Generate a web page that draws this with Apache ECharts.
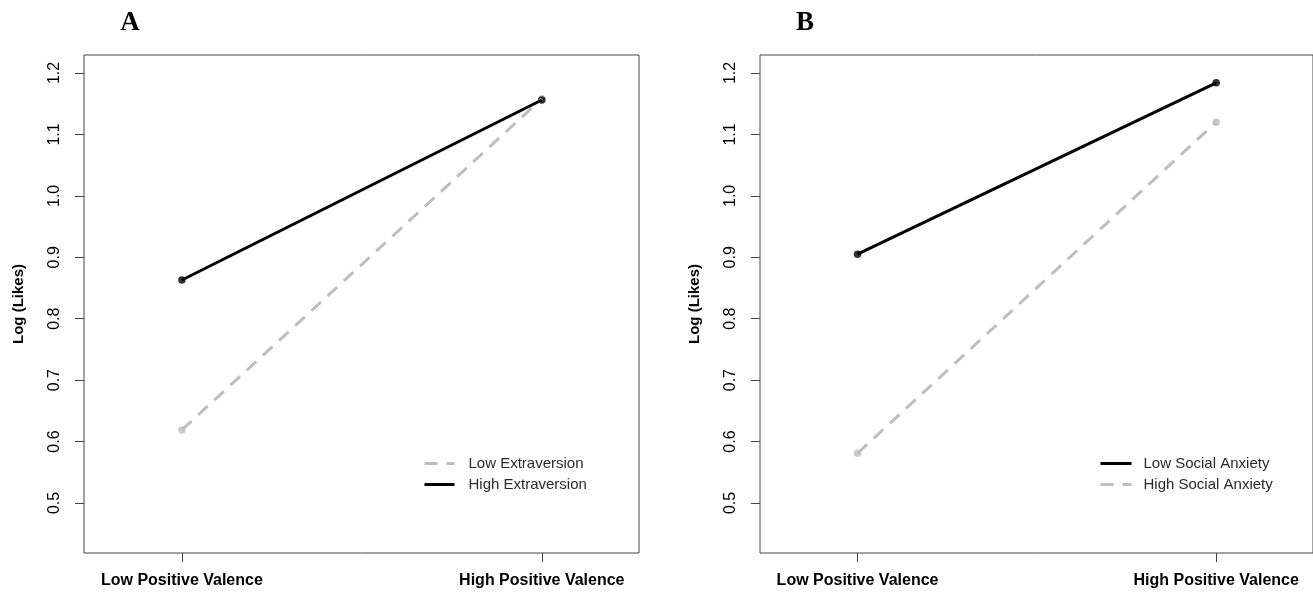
<!DOCTYPE html>
<html>
<head>
<meta charset="utf-8">
<script src="https://cdn.jsdelivr.net/npm/echarts@6/dist/echarts.min.js"></script>
<style>
html,body{margin:0;padding:0;background:#fff;}
#chart{width:1313px;height:592px;}
</style>
</head>
<body>
<div id="chart"></div>
<script>
// ---- data ----
var categories = ['Low Positive Valence', 'High Positive Valence'];
var xPositions = [1, 2];
var yTicks = [0.5, 0.6, 0.7, 0.8, 0.9, 1.0, 1.1, 1.2];
// Panel A
var lowExtraversion = [0.619, 1.158];
var highExtraversion = [0.863, 1.156];
// Panel B
var lowSocialAnxiety = [0.905, 1.184];
var highSocialAnxiety = [0.581, 1.120];

function pts(vals) { return vals.map(function (v, i) { return [xPositions[i], v]; }); }

var FONT = 'Liberation Sans';
var GRAY = '#bebebe';
var BLACK = '#000000';
var DASH = [13, 9];

function xAxisCfg(idx) {
  return {
    type: 'value', gridIndex: idx, min: 0.728, max: 2.27,
    axisLine: { show: false }, splitLine: { show: false },
    axisTick: { show: true, customValues: xPositions, length: 9, inside: false, lineStyle: { color: '#444', width: 1 } },
    axisLabel: {
      customValues: xPositions, margin: 20,
      formatter: function (v) { var i = xPositions.indexOf(Math.round(v)); return i >= 0 ? categories[i] : ''; },
      fontFamily: FONT, fontSize: 16, fontWeight: 'bold', color: '#000'
    }
  };
}
function yAxisCfg(idx, name) {
  return {
    type: 'value', gridIndex: idx, min: 0.4186, max: 1.2293,
    name: name, nameLocation: 'middle', nameRotate: 90, nameGap: 58,
    nameTextStyle: { fontFamily: FONT, fontSize: 15, fontWeight: 'bold', color: '#000' },
    axisLine: { show: false }, splitLine: { show: false },
    axisTick: { show: true, customValues: yTicks, length: 9, inside: false, lineStyle: { color: '#444', width: 1 } },
    axisLabel: {
      customValues: yTicks, rotate: 90, margin: 21,
      formatter: function (v) { return v.toFixed(1); },
      fontFamily: FONT, fontSize: 16, color: '#000'
    }
  };
}
function lineSeries(name, vals, color, dashed, gi) {
  return {
    type: 'line', name: name, xAxisIndex: gi, yAxisIndex: gi, data: pts(vals),
    symbol: 'none', silent: true, animation: false,
    itemStyle: { color: color },
    lineStyle: { color: color, width: 3, type: dashed ? DASH : 'solid' }
  };
}
function pointSeries(vals, color, gi) {
  return {
    type: 'scatter', xAxisIndex: gi, yAxisIndex: gi, data: pts(vals),
    symbol: 'circle', symbolSize: 7.5, silent: true, animation: false,
    itemStyle: { color: color }
  };
}

function legendItem(name, color, dashed) {
  return {
    name: name,
    itemStyle: { color: color, opacity: 0 },
    lineStyle: { color: color, width: 3, type: dashed ? DASH : 'solid', opacity: 1 }
  };
}

var option = {
  backgroundColor: '#fff',
  animation: false,
  title: [
    { text: 'A', left: 125, top: 5, textAlign: 'center', textStyle: { fontFamily: 'Liberation Serif', fontSize: 27, fontWeight: 'bold', color: '#000' } },
    { text: 'B', left: 800, top: 5, textAlign: 'center', textStyle: { fontFamily: 'Liberation Serif', fontSize: 27, fontWeight: 'bold', color: '#000' } }
  ],
  grid: [
    { left: 84, top: 55, width: 555, height: 498, show: true, borderColor: '#444', borderWidth: 1, backgroundColor: 'transparent' },
    { left: 760, top: 55, width: 555, height: 498, show: true, borderColor: '#444', borderWidth: 1, backgroundColor: 'transparent' }
  ],
  xAxis: [xAxisCfg(0), xAxisCfg(1)],
  yAxis: [yAxisCfg(0, 'Log (Likes)'), yAxisCfg(1, 'Log (Likes)')],
  legend: [
    {
      left: 418, top: 451, orient: 'vertical', itemWidth: 30, itemHeight: 14, itemGap: 6,
      selectedMode: false,
      textStyle: { fontFamily: FONT, fontSize: 15, color: '#2a2a2a', padding: [0, 0, 0, 9] },
      data: [
        legendItem('Low Extraversion', GRAY, true),
        legendItem('High Extraversion', BLACK, false)
      ]
    },
    {
      left: 1094, top: 451, orient: 'vertical', itemWidth: 31, itemHeight: 14, itemGap: 6,
      selectedMode: false,
      textStyle: { fontFamily: FONT, fontSize: 15, color: '#2a2a2a', padding: [0, 0, 0, 7] },
      data: [
        legendItem('Low Social Anxiety', BLACK, false),
        legendItem('High Social Anxiety', GRAY, true)
      ]
    }
  ],
  series: [
    lineSeries('Low Extraversion', lowExtraversion, GRAY, true, 0),
    lineSeries('High Extraversion', highExtraversion, BLACK, false, 0),
    pointSeries(lowExtraversion, GRAY, 0),
    pointSeries(highExtraversion, BLACK, 0),
    lineSeries('High Social Anxiety', highSocialAnxiety, GRAY, true, 1),
    lineSeries('Low Social Anxiety', lowSocialAnxiety, BLACK, false, 1),
    pointSeries(highSocialAnxiety, GRAY, 1),
    pointSeries(lowSocialAnxiety, BLACK, 1)
  ]
};

var chart = echarts.init(document.getElementById('chart'), null, { renderer: 'canvas' });
chart.setOption(option);
</script>
</body>
</html>
